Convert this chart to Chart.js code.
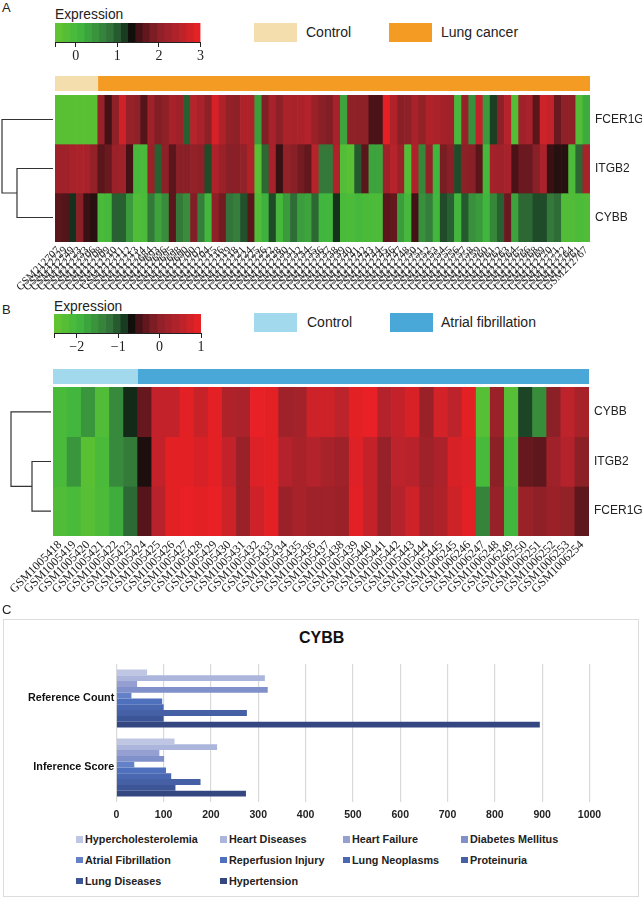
<!DOCTYPE html>
<html>
<head>
<meta charset="utf-8">
<title>Expression heatmaps and CYBB</title>
<script src="https://cdn.jsdelivr.net/npm/chart.js@4"></script>
<style>
    html, body { margin: 0; padding: 0; background: #fff; }
    body { position: relative; width: 642px; height: 898px; overflow: hidden; font-family: "Liberation Sans", Arial, sans-serif; color: #222; }
    canvas { position: absolute; }
    .txt { position: absolute; white-space: nowrap; line-height: 1; }
    .swatch { position: absolute; width: 43px; height: 19px; }
    #boxC { position: absolute; left: 3px; top: 619px; width: 634px; height: 276px; border: 1.5px solid #dcdcdc; }
    #legendC { position: absolute; left: 76px; top: 829px; display: grid; grid-template-columns: 144px 123px 118px 130px; grid-auto-rows: 20.8px; font: bold 10.8px "Liberation Sans", Arial, sans-serif; color: #222; }
    #legendC div { display: flex; align-items: center; white-space: nowrap; }
    #legendC i { display: inline-block; width: 6.5px; height: 6.5px; margin-right: 2.5px; }
</style>
</head>
<body>
<div id="boxC"></div>
<div id="legendC"></div>
<script>
const genesA = ['FCER1G', 'ITGB2', 'CYBB'];
const genesB = ['CYBB', 'ITGB2', 'FCER1G'];

const samplesA = ['212707', '212729', '212749', '212723', '212733', '212706', '212708', '212709', '212710', '212711', '212712', '212713', '212714', '212684', '212693', '212696', '212695', '212698', '212690', '212700', '212702', '212704', '212715', '212716', '212719', '212718', '212721', '212724', '212725', '212726', '212722', '212728', '212730', '212731', '212732', '212734', '212735', '212736', '212737', '212738', '212739', '212740', '212741', '212742', '212743', '212744', '212745', '212746', '212747', '212748', '212750', '212751', '212752', '212753', '212754', '212755', '212756', '212757', '212758', '212759', '212760', '212761', '212762', '212763', '212764', '212765', '212766', '212768', '212769', '212770', '212771', '212772', '212764', '212761', '212767'];
const samplesB = ['GSM1005418', 'GSM1005419', 'GSM1005420', 'GSM1005421', 'GSM1005422', 'GSM1005423', 'GSM1005424', 'GSM1005425', 'GSM1005426', 'GSM1005427', 'GSM1005428', 'GSM1005429', 'GSM1005430', 'GSM1005431', 'GSM1005432', 'GSM1005433', 'GSM1005434', 'GSM1005435', 'GSM1005436', 'GSM1005437', 'GSM1005438', 'GSM1005439', 'GSM1005440', 'GSM1005441', 'GSM1005442', 'GSM1005443', 'GSM1005444', 'GSM1005445', 'GSM1006245', 'GSM1006246', 'GSM1006247', 'GSM1006248', 'GSM1006249', 'GSM1006250', 'GSM1006251', 'GSM1006252', 'GSM1006253', 'GSM1006254'];

const fcer1gA = [-0.3, -0.3, -0.3, -0.3, -0.3, -0.3, 2.1, 1.5, 2.0, 2.7, 2.1, 2.0, 1.6, 2.2, 1.9, 2.0, 2.3, 2.2, 0.95, 2.5, 2.3, 2.0, 2.8, 2.4, 2.05, 2.0, 2.4, 2.4, 0.35, 1.9, 2.3, 2.0, 2.35, 2.3, 2.35, 2.45, 2.15, 1.95, 1.9, 2.3, 0.3, 2.0, 2.0, 2.0, 1.55, 1.55, 2.9, 2.4, 1.95, 2.0, 2.3, 2.05, 2.4, 2.35, 2.25, 2.2, 0.0, 2.1, 0.5, 2.6, 0.4, 1.15, 2.0, 2.5, -0.2, 2.2, 2.3, 1.65, 2.7, 2.6, 1.75, 2.0, 2.0, -0.2, 0.2];
const itgb2A = [2.2, 2.2, 2.3, 2.35, 2.3, 2.05, 1.65, 1.75, 2.15, 2.2, 1.5, 0.0, -0.05, 2.15, 0.95, 2.0, 1.65, 1.95, 1.95, 2.05, 2.0, 1.1, 2.4, 2.15, 1.95, 1.95, 2.05, 2.4, -0.3, 0.9, 2.3, 1.45, 2.05, 1.95, 1.8, 1.7, 2.5, 0.75, 0.75, 2.4, -0.2, -0.3, 1.0, 1.65, 0.3, 0.3, 2.2, 2.5, 2.15, -0.2, 2.4, 0.6, 2.1, 0.1, 1.85, 1.95, 1.1, 2.0, 1.95, 1.65, 0.0, 2.25, 2.2, 2.3, 1.55, 1.75, 1.75, 1.95, 2.35, 1.45, 1.4, 1.4, -0.1, 0.9, 2.3];
const cybbA = [1.65, 1.6, 1.2, 1.95, 1.45, 1.4, -0.05, 0.0, 0.95, 0.95, 0.4, -0.15, -0.1, 0.75, 0.3, 0.55, 1.65, 0.75, 0.55, 1.9, 0.7, 0.05, 2.0, 1.8, 0.8, 0.7, 1.05, 1.65, -0.15, 0.15, 1.1, 0.0, 0.4, 0.85, 0.35, 0.3, 0.9, 0.1, 0.05, 1.2, -0.05, -0.1, 0.0, -0.05, -0.1, -0.1, 1.65, 1.7, 0.35, 0.0, 1.5, 0.5, 0.7, 0.05, 1.1, 0.95, 0.05, 1.0, 0.5, 0.4, 0.1, 0.6, 0.95, 1.75, 0.3, 0.9, 0.9, 1.1, 1.1, 0.75, 0.85, -0.15, -0.15, -0.1, -0.15];

const cybbB = [-2.1, -2.0, -1.6, -2.2, -1.45, -0.8, -0.3, 0.6, 0.6, 0.9, 0.65, 0.9, 0.4, 0.35, 0.95, 0.9, 0.2, 0.25, 0.7, 0.7, 0.55, 0.9, 0.95, 0.45, 0.6, 0.8, 0.15, 0.75, 0.55, 0.9, -2.3, 0.15, -2.3, -0.9, -1.5, -0.05, 0.55, 0.3];
const itgb2B = [-2.1, -1.6, -2.35, -2.1, -1.45, -1.3, -0.65, 0.6, 0.9, 0.9, 0.8, 0.9, 0.6, 0.15, 0.85, 0.9, 0.45, 0.3, 0.45, 0.3, 0.2, 0.85, 0.6, 0.1, 0.55, 0.5, 0.2, 0.35, 0.8, 0.85, -2.05, -0.05, -2.1, -0.3, -0.35, 0.2, 0.45, -0.05];
const fcer1gB = [-2.2, -2.1, -2.3, -2.15, -1.85, -1.15, -0.4, 0.5, 0.9, 0.95, 0.9, 0.95, 0.7, 0.15, 0.7, 0.9, 0.15, 0.3, 0.2, 0.2, 0.15, 0.9, 0.6, 0.1, 0.45, 0.7, 0.25, 0.4, 0.7, 0.9, -1.4, 0.1, -2.0, 0.15, 0.0, 0.15, 0.05, -0.35];

const mergeHeightsA = [0.706, 1];
const mergeHeightsB = [0.475, 1];

const groupCountsA = [6, 69];
const groupCountsB = [6, 32];

const diseases = ['Hypercholesterolemia', 'Heart Diseases', 'Heart Failure', 'Diabetes Mellitus', 'Atrial Fibrillation', 'Reperfusion Injury', 'Lung Neoplasms', 'Proteinuria', 'Lung Diseases', 'Hypertension'];
const diseaseColors = ['#bfc6e3', '#acb6dc', '#969fd2', '#7f90cb', '#6480c6', '#4f70bd', '#4a68b2', '#4560a4', '#3c5596', '#344780'];
const scoreLabels = ['Reference Count', 'Inference Score'];
const referenceCount = [65, 314, 44, 320, 32, 97, 100, 276, 100, 895];
const inferenceScore = [123, 213, 91, 101, 38, 105, 116, 178, 125, 274];

const sansFont = '"Liberation Sans", Arial, sans-serif';
const serifFont = '"Liberation Serif", "Times New Roman", serif';

Chart.defaults.animation = false;
Chart.defaults.responsive = false;
Chart.defaults.plugins.legend.display = false;
Chart.defaults.plugins.tooltip.enabled = false;

const colorStops = [
    [0, [102, 197, 47]],
    [0.17, [64, 182, 62]],
    [0.37, [51, 117, 58]],
    [0.46, [30, 74, 40]],
    [0.52, [10, 15, 10]],
    [0.56, [61, 16, 21]],
    [0.7, [138, 32, 39]],
    [0.86, [184, 35, 43]],
    [1, [238, 32, 36]]
];

function heatColor(value, min, max) {
    const t = Math.min(1, Math.max(0, (value - min) / (max - min)));
    for (let i = 1; i < colorStops.length; i++) {
        const [t0, c0] = colorStops[i - 1];
        const [t1, c1] = colorStops[i];
        if (t <= t1) {
            const f = (t - t0) / (t1 - t0);
            return `rgb(${c0.map((c, k) => Math.round(c + (c1[k] - c) * f)).join(',')})`;
        }
    }
    return 'rgb(238,32,36)';
}

function addCanvas(left, top, width, height) {
    const canvas = document.createElement('canvas');
    canvas.width = width;
    canvas.height = height;
    canvas.style.left = left + 'px';
    canvas.style.top = top + 'px';
    canvas.style.width = width + 'px';
    canvas.style.height = height + 'px';
    document.body.appendChild(canvas);
    return canvas;
}

function addText(text, left, top, size, bold) {
    const el = document.createElement('div');
    el.className = 'txt';
    el.textContent = text;
    el.style.left = left + 'px';
    el.style.top = top + 'px';
    el.style.fontSize = size + 'px';
    if (bold) {
        el.style.fontWeight = 'bold';
        el.style.color = '#111';
    }
    document.body.appendChild(el);
}

function addSwatch(left, top, color) {
    const el = document.createElement('div');
    el.className = 'swatch';
    el.style.left = left + 'px';
    el.style.top = top + 'px';
    el.style.background = color;
    document.body.appendChild(el);
}

function drawHeatmap(canvas, genes, rows, samples, min, max, labelSize, leftSpace, bottomSpace, sideSpace) {
    new Chart(canvas, {
        type: 'bar',
        data: {
            labels: samples,
            datasets: rows.map((row, i) => ({
                label: genes[i],
                data: row.map(() => 1),
                backgroundColor: row.map(v => heatColor(v, min, max)),
                borderWidth: 0,
                barPercentage: 1,
                categoryPercentage: 1
            }))
        },
        options: {
            layout: { padding: { left: leftSpace } },
            scales: {
                x: {
                    stacked: true,
                    grid: { display: false, drawTicks: false },
                    border: { display: false },
                    // rotated labels must not push the plot area away from the left space
                    afterFit: s => { s.height = bottomSpace; s.paddingLeft = 0; s.paddingRight = 0; },
                    ticks: { autoSkip: false, minRotation: 45, maxRotation: 45, padding: 2, color: '#222', font: { family: serifFont, size: labelSize } }
                },
                y: {
                    stacked: true,
                    position: 'right',
                    reverse: true,
                    min: 0,
                    max: 3,
                    grid: { display: false, drawTicks: false },
                    border: { display: false },
                    afterFit: s => { s.width = sideSpace; s.paddingTop = 0; s.paddingBottom = 0; },
                    afterBuildTicks: s => { s.ticks = genes.map((g, i) => ({ value: i + 0.5 })); },
                    ticks: {
                        padding: 5,
                        color: '#222',
                        font: { family: sansFont, size: 12 },
                        callback: v => genes[Math.floor(v)]
                    }
                }
            }
        }
    });
}

function drawDendrogram(canvas, heights) {
    const lines = [
        [{ x: 0, y: 1.5 }, { x: heights[0], y: 1.5 }, { x: heights[0], y: 2.5 }, { x: 0, y: 2.5 }],
        [{ x: 0, y: 0.5 }, { x: heights[1], y: 0.5 }, { x: heights[1], y: 2 }, { x: heights[0], y: 2 }]
    ];
    new Chart(canvas, {
        type: 'scatter',
        data: {
            datasets: lines.map(line => ({
                data: line,
                showLine: true,
                borderColor: '#333',
                borderWidth: 1.2,
                pointRadius: 0,
                clip: false
            }))
        },
        options: {
            layout: { padding: { left: 2, right: 2 } },
            scales: {
                x: { display: false, reverse: true, min: 0, max: 1 },
                y: { display: false, reverse: true, min: 0, max: 3 }
            }
        }
    });
}

function drawColorBar(canvas, min, max, tickValues, steps, paddingLeft, paddingRight, barSpace) {
    const stepSize = (max - min) / steps;
    const datasets = [];
    for (let i = 0; i < steps; i++) {
        const lo = min + i * stepSize;
        datasets.push({
            data: [[lo, lo + stepSize]],
            backgroundColor: heatColor(lo + stepSize / 2, min, max),
            borderWidth: 0,
            barPercentage: 1,
            categoryPercentage: 1,
            grouped: false
        });
    }
    new Chart(canvas, {
        type: 'bar',
        data: { labels: ['Expression'], datasets: datasets },
        options: {
            indexAxis: 'y',
            layout: { padding: { left: paddingLeft, right: paddingRight } },
            scales: {
                y: { display: false },
                x: {
                    min: min,
                    max: max,
                    afterFit: s => { s.height = barSpace; },
                    afterBuildTicks: s => { s.ticks = [min].concat(tickValues).map(v => ({ value: v })); },
                    grid: { drawOnChartArea: false, tickLength: 5, tickColor: '#222', tickWidth: 1 },
                    border: { color: '#222', width: 1 },
                    ticks: {
                        padding: 1,
                        color: '#222',
                        maxRotation: 0,
                        autoSkip: false,
                        font: { family: serifFont, size: 14 },
                        callback: v => (tickValues.includes(v) ? String(v).replace('-', '\u2212') : '')
                    }
                }
            }
        }
    });
}

function drawGroupStrip(canvas, counts, colors) {
    new Chart(canvas, {
        type: 'bar',
        data: {
            labels: ['Group'],
            datasets: counts.map((c, i) => ({
                data: [c],
                backgroundColor: colors[i],
                borderWidth: 0,
                barPercentage: 1,
                categoryPercentage: 1
            }))
        },
        options: {
            indexAxis: 'y',
            scales: {
                x: { display: false, stacked: true, min: 0, max: counts[0] + counts[1] },
                y: { display: false, stacked: true }
            }
        }
    });
}

function drawScoreBars(canvas) {
    new Chart(canvas, {
        type: 'bar',
        data: {
            labels: scoreLabels,
            datasets: diseases.map((name, i) => ({
                label: name,
                data: [referenceCount[i], inferenceScore[i]],
                backgroundColor: diseaseColors[i],
                borderWidth: 0,
                barPercentage: 1,
                categoryPercentage: 0.84
            }))
        },
        options: {
            indexAxis: 'y',
            layout: { padding: { top: 43, right: 45.5 } },
            scales: {
                x: {
                    min: 0,
                    max: 1000,
                    afterFit: s => { s.height = 19; },
                    grid: { color: '#d9d9d9', lineWidth: 1.2, drawTicks: false },
                    border: { display: false },
                    ticks: {
                        stepSize: 100,
                        padding: 7,
                        maxRotation: 0,
                        color: '#222',
                        font: { family: sansFont, size: 10.5, weight: 'bold' },
                        callback: v => String(v)
                    }
                },
                y: {
                    afterFit: s => { s.width = 111.3; },
                    grid: { display: false, drawTicks: false },
                    border: { display: false },
                    ticks: { padding: 2, color: '#111', font: { family: sansFont, size: 10.8, weight: 'bold' } }
                }
            }
        }
    });
}

function buildLegendC() {
    const legend = document.getElementById('legendC');
    diseases.forEach((name, i) => {
        const item = document.createElement('div');
        const box = document.createElement('i');
        box.style.background = diseaseColors[i];
        item.appendChild(box);
        item.appendChild(document.createTextNode(name));
        legend.appendChild(item);
    });
}

// panel A
addText('A', 2, 1, 13);
addText('Expression', 55, 7.5, 13.8);
addSwatch(254, 23, '#f5deae');
addText('Control', 306, 25, 14);
addSwatch(389, 23, '#f49b24');
addText('Lung cancer', 441, 25, 14);
drawColorBar(addCanvas(40, 23, 180, 42), -0.5, 3, [0, 1, 2, 3], 20, 15, 19.5, 23);
drawGroupStrip(addCanvas(55, 76, 535, 15), groupCountsA, ['#f5deae', '#f49b24']);
drawDendrogram(addCanvas(0, 95, 55, 147), mergeHeightsA);
drawHeatmap(addCanvas(0, 95, 642, 200), genesA, [fcer1gA, itgb2A, cybbA], samplesA.map(s => 'GSM' + s), -0.5, 3, 11, 55, 53, 52);

// panel B
addText('B', 2, 303, 13);
addText('Expression', 54, 300, 13.8);
addSwatch(254, 313, '#a2d9ec');
addText('Control', 307, 315, 14);
addSwatch(390, 313, '#4aa8d8');
addText('Atrial fibrillation', 441, 315, 14);
drawColorBar(addCanvas(39, 314, 180, 42), -2.55, 1, [-2, -1, 0, 1], 20, 15, 18, 23);
drawGroupStrip(addCanvas(53, 369, 536, 15), groupCountsB, ['#a2d9ec', '#4aa8d8']);
drawDendrogram(addCanvas(9, 387, 44, 149), mergeHeightsB);
drawHeatmap(addCanvas(0, 387, 642, 215), genesB, [cybbB, itgb2B, fcer1gB], samplesB, -2.55, 1, 12, 53, 66, 53);

// panel C
addText('C', 2, 603, 13);
addText('CYBB', 299, 630, 16, true);
drawScoreBars(addCanvas(5, 621, 630, 200));
buildLegendC();
</script>
</body>
</html>
